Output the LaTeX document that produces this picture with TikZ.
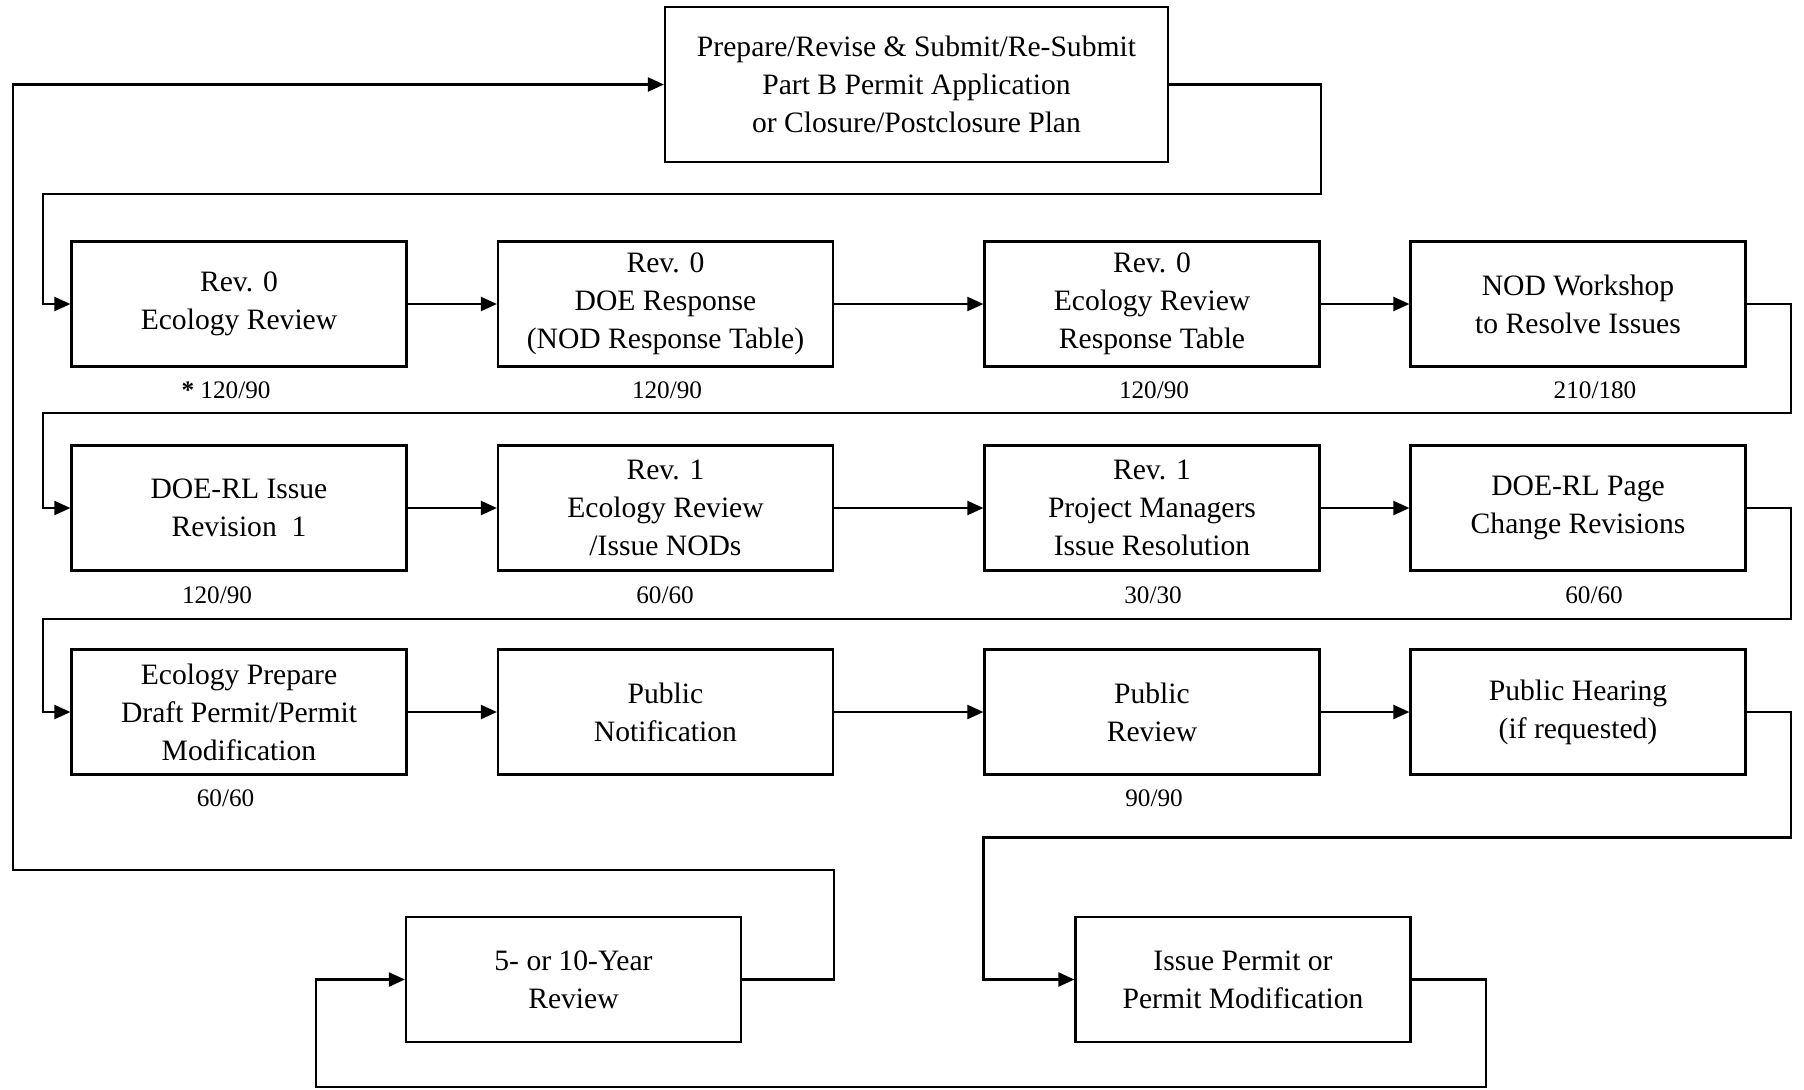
\documentclass[tikz,border=0pt]{standalone}
\usepackage{fontspec}
\setmainfont{Liberation Serif}
\usepackage{tikz}
\usetikzlibrary{arrows.meta, positioning, calc}
\tikzset{
  stepbox/.style={
    draw, line width=1.1pt, align=center, fill=white,
    font=\fontsize{14.8}{19}\selectfont,
    minimum width=167.5pt, minimum height=62.5pt, inner sep=2pt,
    execute at begin node={\rule{0pt}{14pt}}
  },
  startbox/.style={
    stepbox, minimum width=251.5pt, minimum height=77.5pt
  },
  flowarrow/.style={
    -{Triangle[length=8pt,width=7pt]}, line width=1.1pt
  },
  daylabel/.style={
    font=\fontsize{12.6}{15}\selectfont
  },
}

\begin{document}
\begin{tikzpicture}[x=0.5pt, y=-0.5pt]
  \useasboundingbox (0,0) rectangle (1804,1089);

  % ── Application ──
  \node[startbox] (submit) at (916.5,84.5)
    {Prepare/Revise \& Submit/Re-Submit\\Part B Permit Application\\or Closure/Postclosure Plan};

  % ── Rev. 0 row ──
  \node[stepbox] (ecorev0) at (239,304) {Rev. 0\\Ecology Review};
  \node[stepbox] (doeresp0) at (665.5,304) {Rev. 0\\DOE Response\\(NOD Response Table)};
  \node[stepbox] (ecotable0) at (1152,304) {Rev. 0\\Ecology Review\\Response Table};
  \node[stepbox] (nodshop) at (1578,304) {NOD Workshop\\to Resolve Issues};

  % ── Rev. 1 row ──
  \node[stepbox] (doeissue1) at (239,508) {DOE-RL Issue\\Revision~~1};
  \node[stepbox] (ecorev1) at (665.5,508) {Rev. 1\\Ecology Review\\/Issue NODs};
  \node[stepbox] (pmresolve1) at (1152,508) {Rev. 1\\Project Managers\\Issue Resolution};
  \node[stepbox] (pagechange) at (1578,508) {DOE-RL Page\\Change Revisions};

  % ── Public row ──
  \node[stepbox] (draftpermit) at (239,712) {Ecology Prepare\\Draft Permit/Permit\\Modification};
  \node[stepbox] (pubnotice) at (665.5,712) {Public\\Notification};
  \node[stepbox] (pubreview) at (1152,712) {Public\\Review};
  \node[stepbox] (pubhearing) at (1578,712) {Public Hearing\\(if requested)};

  % ── Permit and periodic review ──
  \node[stepbox] (review5) at (573.5,979.5) {5- or 10-Year\\Review};
  \node[stepbox] (issuepermit) at (1243,979.5) {Issue Permit or\\Permit Modification};

  % ── Durations ──
  \node[daylabel] (d1) at (226,390) {\textbf{*} 120/90};
  \node[daylabel] (d2) at (667,390) {120/90};
  \node[daylabel] (d3) at (1154,390) {120/90};
  \node[daylabel] (d4) at (1595,390) {210/180};
  \node[daylabel] (d5) at (217,595) {120/90};
  \node[daylabel] (d6) at (665,595) {60/60};
  \node[daylabel] (d7) at (1153,595) {30/30};
  \node[daylabel] (d8) at (1594,595) {60/60};
  \node[daylabel] (d9) at (225.5,798) {60/60};
  \node[daylabel] (d10) at (1154,798) {90/90};

  % ── Rails ──
  \coordinate (outerrail) at (12.7,0);
  \coordinate (leftrail) at (42.6,0);
  \coordinate (rightrail) at (1791,0);
  \coordinate (gap0) at (0,194);
  \coordinate (gap1) at (0,413);
  \coordinate (gap2) at (0,619);
  \coordinate (gap3) at (0,837.5);
  \coordinate (gap4) at (0,870);
  \coordinate (loopR) at (1486,1087);
  \coordinate (loopL) at (316,1087);

  % ── Connectors ──
  \draw[flowarrow] (submit.east) -| (gap0 -| ecotable0.east)
    -- (gap0 -| leftrail) |- (ecorev0.west);
  \draw[flowarrow] (ecorev0) -- (doeresp0);
  \draw[flowarrow] (doeresp0) -- (ecotable0);
  \draw[flowarrow] (ecotable0) -- (nodshop);

  \draw[flowarrow] (nodshop.east) -| (gap1 -| rightrail)
    -- (gap1 -| leftrail) |- (doeissue1.west);
  \draw[flowarrow] (doeissue1) -- (ecorev1);
  \draw[flowarrow] (ecorev1) -- (pmresolve1);
  \draw[flowarrow] (pmresolve1) -- (pagechange);

  \draw[flowarrow] (pagechange.east) -| (gap2 -| rightrail)
    -- (gap2 -| leftrail) |- (draftpermit.west);
  \draw[flowarrow] (draftpermit) -- (pubnotice);
  \draw[flowarrow] (pubnotice) -- (pubreview);
  \draw[flowarrow] (pubreview) -- (pubhearing);

  \draw[flowarrow] (pubhearing.east) -| (gap3 -| rightrail)
    -- (gap3 -| pubreview.west) |- (issuepermit.west);
  \draw[flowarrow] (issuepermit.east) -| (loopR) -- (loopL) |- (review5.west);
  \draw[flowarrow] (review5.east) -| (gap4 -| doeresp0.east)
    -- (gap4 -| outerrail) |- (submit.west);
\end{tikzpicture}
\end{document}
